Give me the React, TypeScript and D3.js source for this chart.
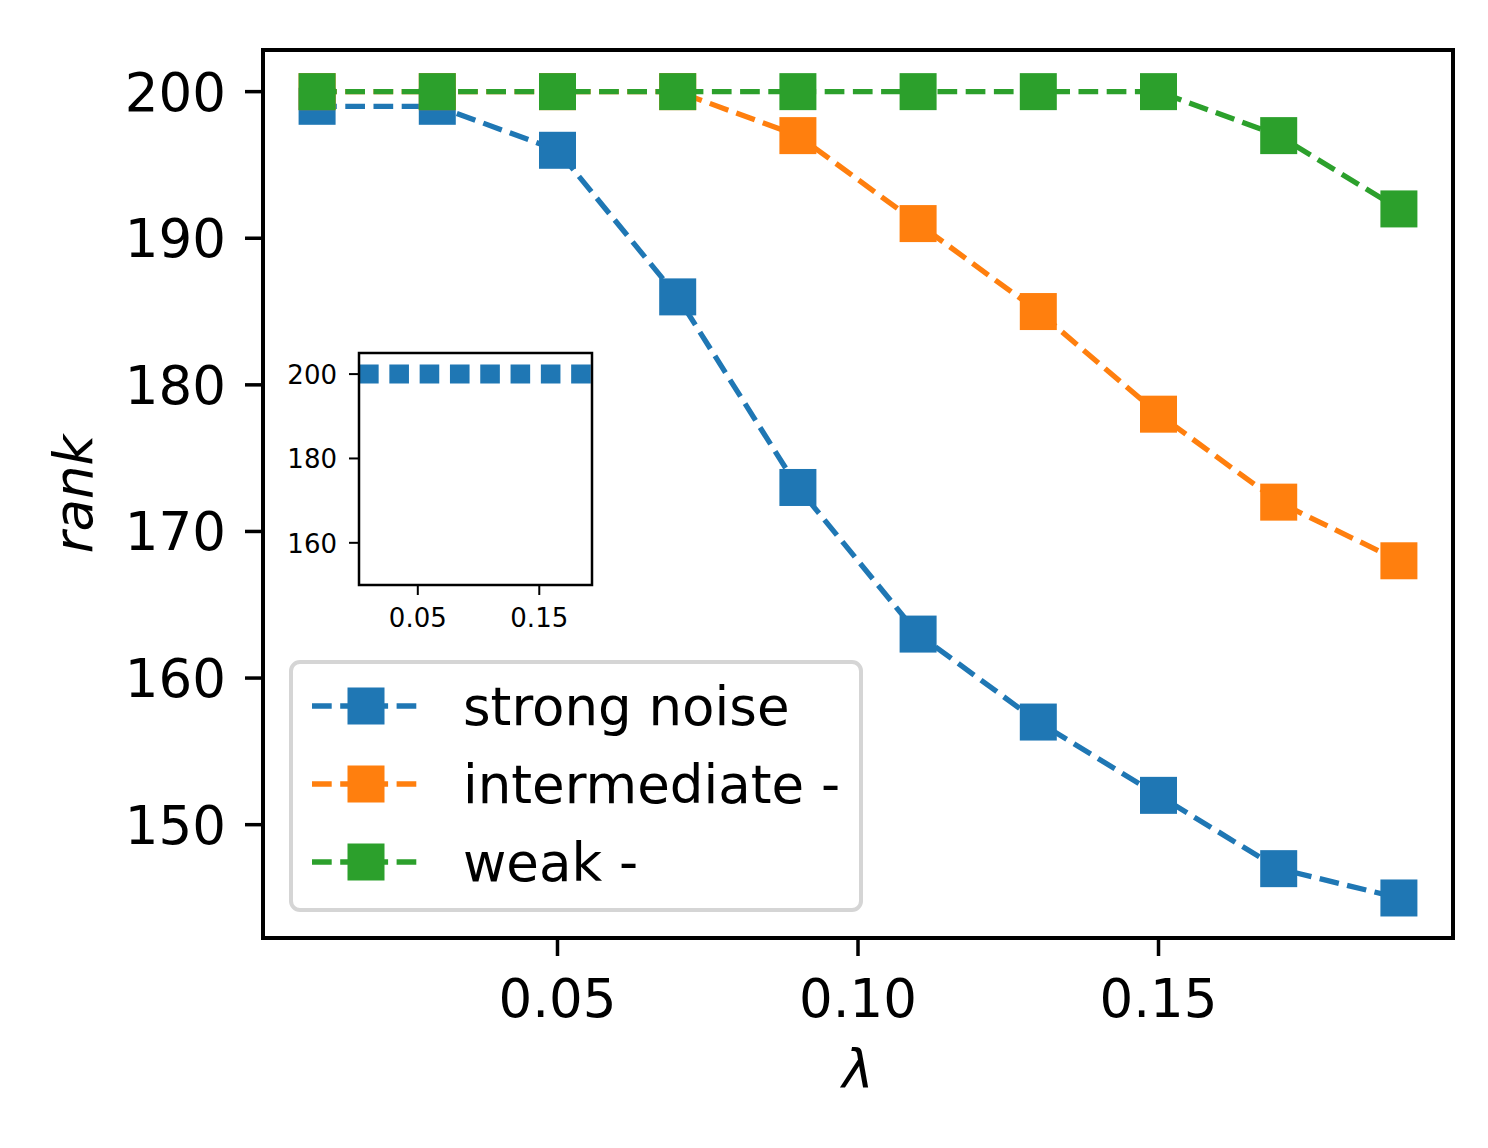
import { useRef, useEffect } from 'react';
import * as d3 from 'd3';

const lambdas = [0.01, 0.03, 0.05, 0.07, 0.09, 0.11, 0.13, 0.15, 0.17, 0.19];
const strongNoise = [199, 199, 196, 186, 173, 163, 157, 152, 147, 145];
const intermediate = [200, 200, 200, 200, 197, 191, 185, 178, 172, 168];
const weak = [200, 200, 200, 200, 200, 200, 200, 200, 197, 192];

const seriesNames = ['strong noise', 'intermediate -', 'weak -'];
const seriesColors = ['#1f77b4', '#ff7f0e', '#2ca02c'];

const xTicks = [0.05, 0.1, 0.15];
const yTicks = [150, 160, 170, 180, 190, 200];

// inset: a single flat line at 200 across the whole range
const insetLambda = [0, 0.2];
const insetRank = [200, 200];
const insetXTicks = [0.05, 0.15];
const insetYTicks = [160, 180, 200];

export default function App() {
  const svgRef = useRef<SVGSVGElement>(null);

  useEffect(() => {
    if (!svgRef.current) return;
    document.body.style.margin = '0';

    const svg = d3.select(svgRef.current);
    svg.selectAll('*').remove();

    const width = 1488;
    const height = 1148;
    const font = '"DejaVu Sans", sans-serif';
    const fs = 53;
    svg.attr('width', width).attr('height', height);
    svg.append('rect').attr('width', width).attr('height', height).attr('fill', '#fff');

    const plot = { left: 263, right: 1453, top: 50, bottom: 938 };

    const x = d3.scaleLinear().domain([0.001, 0.199]).range([plot.left, plot.right]);
    const y = d3.scaleLinear().domain([142.27, 202.84]).range([plot.bottom, plot.top]);

    const series = [strongNoise, intermediate, weak];

    const line = d3
      .line<number>()
      .x((_, i) => x(lambdas[i]))
      .y((d) => y(d));

    const ms = 37;
    const dash = '19.7 8.5';

    series.forEach((vals, si) => {
      const g = svg.append('g');
      g.append('path')
        .datum(vals)
        .attr('fill', 'none')
        .attr('stroke', seriesColors[si])
        .attr('stroke-width', 5.3)
        .attr('stroke-dasharray', dash)
        .attr('d', line);
      g.selectAll('rect')
        .data(vals)
        .join('rect')
        .attr('x', (_, i) => x(lambdas[i]) - ms / 2)
        .attr('y', (d) => y(d) - ms / 2)
        .attr('width', ms)
        .attr('height', ms)
        .attr('fill', seriesColors[si]);
    });

    // frame
    svg.append('rect')
      .attr('x', plot.left)
      .attr('y', plot.top)
      .attr('width', plot.right - plot.left)
      .attr('height', plot.bottom - plot.top)
      .attr('fill', 'none')
      .attr('stroke', '#000')
      .attr('stroke-width', 4);

    // y ticks
    const yAx = svg.append('g');
    yTicks.forEach((t) => {
      yAx.append('line')
        .attr('x1', plot.left - 18)
        .attr('x2', plot.left)
        .attr('y1', y(t))
        .attr('y2', y(t))
        .attr('stroke', '#000')
        .attr('stroke-width', 3.5);
      yAx.append('text')
        .attr('x', plot.left - 37)
        .attr('y', y(t) + 19)
        .attr('text-anchor', 'end')
        .attr('font-family', font)
        .attr('font-size', fs)
        .text(t);
    });

    // x ticks
    const xAx = svg.append('g');
    xTicks.forEach((t) => {
      xAx.append('line')
        .attr('x1', x(t))
        .attr('x2', x(t))
        .attr('y1', plot.bottom)
        .attr('y2', plot.bottom + 18)
        .attr('stroke', '#000')
        .attr('stroke-width', 3.5);
      xAx.append('text')
        .attr('x', x(t))
        .attr('y', plot.bottom + 79)
        .attr('text-anchor', 'middle')
        .attr('font-family', font)
        .attr('font-size', fs)
        .text(d3.format('.2f')(t));
    });

    svg.append('text')
      .attr('transform', `translate(92,${(plot.top + plot.bottom) / 2}) rotate(-90)`)
      .attr('text-anchor', 'middle')
      .attr('font-family', font)
      .attr('font-style', 'italic')
      .attr('font-size', fs)
      .text('rank');

    svg.append('text')
      .attr('x', (plot.left + plot.right) / 2)
      .attr('y', 1088)
      .attr('text-anchor', 'middle')
      .attr('font-family', font)
      .attr('font-style', 'italic')
      .attr('font-size', fs)
      .text('λ');

    // inset axes
    const ins = { left: 359, right: 592, top: 353, bottom: 585 };
    const ix = d3.scaleLinear().domain([0.0016, 0.1934]).range([ins.left, ins.right]);
    const iy = d3.scaleLinear().domain([150, 205]).range([ins.bottom, ins.top]);

    const ig = svg.append('g');
    ig.append('rect')
      .attr('x', ins.left)
      .attr('y', ins.top)
      .attr('width', ins.right - ins.left)
      .attr('height', ins.bottom - ins.top)
      .attr('fill', '#fff');

    svg.append('clipPath')
      .attr('id', 'inset-clip')
      .append('rect')
      .attr('x', ins.left)
      .attr('y', ins.top)
      .attr('width', ins.right - ins.left)
      .attr('height', ins.bottom - ins.top);

    const insetLine = d3
      .line<number>()
      .x((_, i) => ix(insetLambda[i]))
      .y((d) => iy(d));

    ig.append('path')
      .datum(insetRank)
      .attr('clip-path', 'url(#inset-clip)')
      .attr('fill', 'none')
      .attr('stroke', seriesColors[0])
      .attr('stroke-width', 19)
      .attr('stroke-dasharray', '19.6 10.7')
      .attr('stroke-dashoffset', -2)
      .attr('d', insetLine);

    ig.append('rect')
      .attr('x', ins.left)
      .attr('y', ins.top)
      .attr('width', ins.right - ins.left)
      .attr('height', ins.bottom - ins.top)
      .attr('fill', 'none')
      .attr('stroke', '#000')
      .attr('stroke-width', 2.5);

    insetYTicks.forEach((t) => {
      ig.append('line')
        .attr('x1', ins.left - 10)
        .attr('x2', ins.left)
        .attr('y1', iy(t))
        .attr('y2', iy(t))
        .attr('stroke', '#000')
        .attr('stroke-width', 2);
      ig.append('text')
        .attr('x', ins.left - 22)
        .attr('y', iy(t) + 10)
        .attr('text-anchor', 'end')
        .attr('font-family', font)
        .attr('font-size', 26)
        .text(t);
    });

    insetXTicks.forEach((t) => {
      ig.append('line')
        .attr('x1', ix(t))
        .attr('x2', ix(t))
        .attr('y1', ins.bottom)
        .attr('y2', ins.bottom + 10)
        .attr('stroke', '#000')
        .attr('stroke-width', 2);
      ig.append('text')
        .attr('x', ix(t))
        .attr('y', ins.bottom + 42)
        .attr('text-anchor', 'middle')
        .attr('font-family', font)
        .attr('font-size', 26)
        .text(d3.format('.2f')(t));
    });

    // legend
    const lg = svg.append('g');
    lg.append('rect')
      .attr('x', 291)
      .attr('y', 662)
      .attr('width', 570)
      .attr('height', 248)
      .attr('rx', 9)
      .attr('fill', '#fff')
      .attr('fill-opacity', 0.8)
      .attr('stroke', '#d5d5d5')
      .attr('stroke-width', 4);

    seriesNames.forEach((name, i) => {
      const ry = 706 + i * 78;
      lg.append('line')
        .attr('x1', 312)
        .attr('x2', 417)
        .attr('y1', ry)
        .attr('y2', ry)
        .attr('stroke', seriesColors[i])
        .attr('stroke-width', 5.3)
        .attr('stroke-dasharray', dash);
      lg.append('rect')
        .attr('x', 366 - ms / 2)
        .attr('y', ry - ms / 2)
        .attr('width', ms)
        .attr('height', ms)
        .attr('fill', seriesColors[i]);
      lg.append('text')
        .attr('x', 463)
        .attr('y', ry + 19)
        .attr('font-family', font)
        .attr('font-size', fs)
        .text(name);
    });
  }, []);

  return <svg ref={svgRef} style={{ display: 'block' }} />;
}
